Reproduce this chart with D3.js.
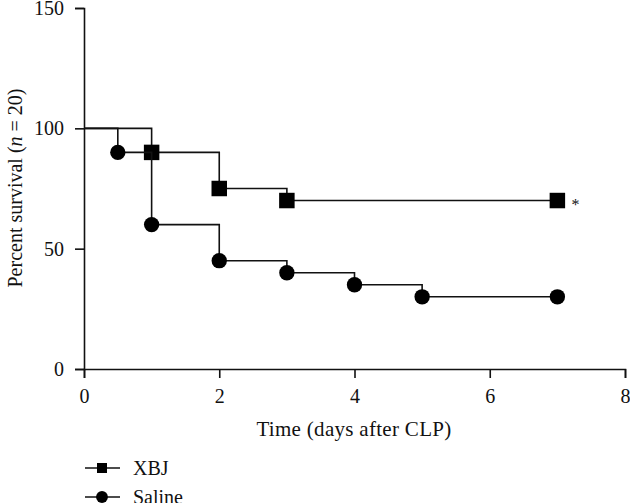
<!DOCTYPE html>
<html>
<head>
<meta charset="utf-8">
<script src="https://cdn.jsdelivr.net/npm/d3@7"></script>
<style>
  body { margin: 0; background: #fff; }
  svg text { font-family: "Liberation Serif", "DejaVu Serif", serif; fill: #111; }
</style>
</head>
<body>
<figure id="km" style="margin:0"></figure>
<script>
// survival data
const seriesNames = ["XBJ", "Saline"];
const xbjDays = [0, 1, 2, 3, 7];
const xbjSurvival = [100, 90, 75, 70, 70];
const salineDays = [0, 0.5, 1, 2, 3, 4, 5, 7];
const salineSurvival = [100, 90, 60, 45, 40, 35, 30, 30];
const xTicks = [0, 2, 4, 6, 8];
const yTicks = [0, 50, 100, 150];

const width = 630, height = 503;
const plotLeft = 84, plotRight = 625, plotTop = 8, plotBottom = 369;

const svg = d3.select("figure#km")
  .append("svg")
  .attr("width", width)
  .attr("height", height);

const x = d3.scaleLinear().domain([0, 8]).range([plotLeft, plotRight]);
const y = d3.scaleLinear().domain([0, 150]).range([plotBottom, plotTop]);

// axes
const xAxis = svg.append("g")
  .attr("transform", "translate(0," + plotBottom + ")")
  .call(d3.axisBottom(x).tickValues(xTicks).tickSize(9).tickPadding(11));
const yAxis = svg.append("g")
  .attr("transform", "translate(" + plotLeft + ",0)")
  .call(d3.axisLeft(y).tickValues(yTicks).tickSize(9).tickPadding(11));

[xAxis, yAxis].forEach(a => {
  a.select(".domain").attr("stroke", "#111").attr("stroke-width", 1.6);
  a.selectAll(".tick line").attr("stroke", "#111").attr("stroke-width", 1.6);
  a.selectAll(".tick text").attr("font-size", 20).attr("fill", "#111");
});

svg.append("text")
  .attr("x", 354)
  .attr("y", 436)
  .attr("text-anchor", "middle")
  .attr("font-size", 21)
  .attr("letter-spacing", 0.3)
  .text("Time (days after CLP)");

const yTitle = svg.append("text")
  .attr("transform", "translate(22,188) rotate(-90)")
  .attr("text-anchor", "middle")
  .attr("font-size", 20);
yTitle.append("tspan").text("Percent survival (");
yTitle.append("tspan").attr("font-style", "italic").text("n");
yTitle.append("tspan").text(" = 20)");

// curves
const series = [
  {name: seriesNames[0], shape: d3.symbolSquare, pts: xbjDays.map((d, i) => [d, xbjSurvival[i]])},
  {name: seriesNames[1], shape: d3.symbolCircle, pts: salineDays.map((d, i) => [d, salineSurvival[i]])}
];

const line = d3.line()
  .x(d => x(d[0]))
  .y(d => y(d[1]))
  .curve(d3.curveStepAfter);

series.forEach(s => {
  svg.append("path")
    .attr("d", line(s.pts))
    .attr("fill", "none")
    .attr("stroke", "#111")
    .attr("stroke-width", 1.6);

  const size = s.shape === d3.symbolSquare ? 240 : 185;
  svg.selectAll(null)
    .data(s.pts.slice(1))
    .enter()
    .append("path")
    .attr("transform", d => "translate(" + x(d[0]) + "," + y(d[1]) + ")")
    .attr("d", d3.symbol().type(s.shape).size(size))
    .attr("fill", "#000");
});

// significance mark
const last = series[0].pts[series[0].pts.length - 1];
svg.append("text")
  .attr("x", x(last[0]) + 14)
  .attr("y", y(last[1]) + 9)
  .attr("font-size", 16)
  .text("*");

// legend
const legend = svg.append("g");
series.forEach((s, i) => {
  const ly = 468 + i * 29;
  legend.append("line")
    .attr("x1", 85).attr("x2", 120)
    .attr("y1", ly).attr("y2", ly)
    .attr("stroke", "#111").attr("stroke-width", 1.6);
  legend.append("path")
    .attr("transform", "translate(102," + ly + ")")
    .attr("d", d3.symbol().type(s.shape).size(s.shape === d3.symbolSquare ? 100 : 110))
    .attr("fill", "#000");
  legend.append("text")
    .attr("x", 133)
    .attr("y", ly + 7)
    .attr("font-size", 20)
    .text(s.name);
});
</script>
</body>
</html>
